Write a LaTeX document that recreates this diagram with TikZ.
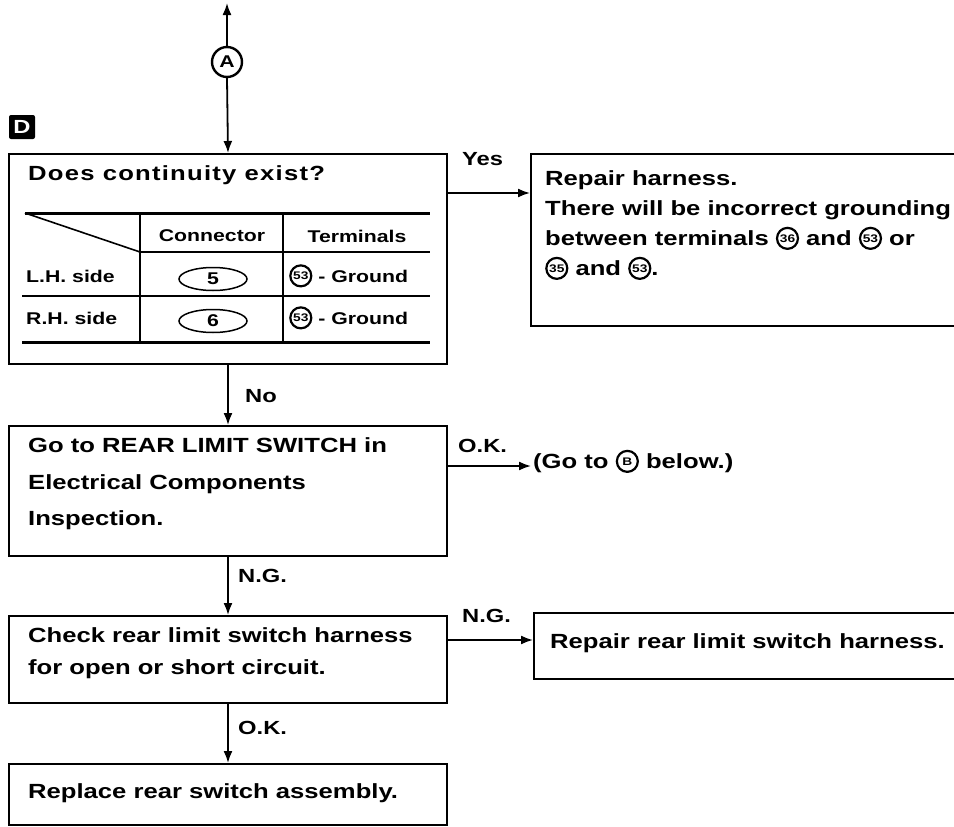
\documentclass[tikz,border=0pt]{standalone}
\usepackage{fontspec}
\setmainfont{Liberation Sans}[UprightFont=* Bold,BoldFont=* Bold,FakeStretch=1.25]
\usetikzlibrary{arrows.meta,shapes.geometric}
\newcommand\circnum[2][3.5pt]{\tikz[baseline={([yshift=-#1]cn.base)}]\node[circle,draw,line width=2.2pt,inner sep=0pt,minimum size=21pt,font=\fontsize{11}{11}\selectfont](cn){#2};}
\begin{document}
\begin{tikzpicture}[x=1pt,y=-1pt,
  box/.style={draw,line width=2pt,anchor=north west,inner sep=0pt},
  conn/.style={line width=1.8pt,-{Latex[length=12pt,width=9pt]}},
  txt/.style={anchor=mid west,inner sep=0pt,font=\fontsize{20.5}{30}\selectfont,align=left},
  lbl/.style={anchor=mid west,inner sep=0pt,font=\fontsize{19}{19}\selectfont},
  tab/.style={inner sep=0pt,font=\fontsize{17}{17}\selectfont},
  thickrule/.style={line width=3pt},
  rule/.style={line width=1.6pt}]
\useasboundingbox (0,0) rectangle (954,827);
\begin{scope}
\clip (0,0) rectangle (954,827);
% boxes
\node[box,minimum width=438,minimum height=210] (b1) at (8,153) {};
\node[box,minimum width=440,minimum height=172] (b2) at (530,153) {};
\node[box,minimum width=438,minimum height=130] (b3) at (8,425) {};
\node[box,minimum width=438,minimum height=87]  (b4) at (8,615) {};
\node[box,minimum width=437,minimum height=66]  (b5) at (533,612) {};
\node[box,minimum width=438,minimum height=61]  (b6) at (8,763) {};
\end{scope}

% marker D
\node[fill=black,text=white,rounded corners=2pt,minimum width=26,minimum height=24,inner sep=0pt,
      font=\fontsize{19}{19}\selectfont] (dmark) at (22,127) {D};

% circle A and top connector
\node[circle,draw,line width=2.4pt,minimum size=30pt,inner sep=0pt,font=\fontsize{17}{17}\selectfont] (ca) at (227,62) {A};
\coordinate (topend) at (227,3);
\draw[conn] (ca.north) -- (topend);
\draw[conn] (ca.south) -- (b1.north);

% box 1 content
\node[txt,font=\fontsize{20.5}{30}\selectfont\addfontfeatures{LetterSpace=6}] (q1) at (28,178) {Does continuity exist?};
\draw[thickrule] (25,213) -- (430,213);
\draw[rule] (25,213) -- (140,252);
\draw[rule] (140,252) -- (430,252);
\draw[rule] (22,296) -- (430,296);
\draw[thickrule] (22,342) -- (430,342);
\draw[rule] (140,213) -- (140,342);
\draw[rule] (283,213) -- (283,342);
\node[tab] (hc) at (212,236) {Connector};
\node[tab] (ht) at (357,236) {Terminals};
\node[tab,anchor=mid west] (lh) at (26,280) {L.H. side};
\node[tab,anchor=mid west] (rh) at (26,322) {R.H. side};
\node[tab,draw,ellipse,line width=1.5pt,minimum width=68,minimum height=23] (c5) at (213,279) {5};
\node[tab,draw,ellipse,line width=1.5pt,minimum width=68,minimum height=23] (c6) at (213,321) {6};
\node[tab,anchor=mid west] (t1) at (289,280) {\circnum[3pt]{53} - Ground};
\node[tab,anchor=mid west] (t2) at (289,322) {\circnum[3pt]{53} - Ground};

% box 2 content (anchor refers to last line)
\node[txt] (r1) at (545,273) {Repair harness.\\There will be incorrect grounding\\between terminals \circnum{36} and \circnum{53} or\\\circnum{35} and \circnum{53}.};

% box 3 content
\node[txt,font=\fontsize{20.5}{36.5}\selectfont] (g1) at (28,523) {Go to REAR LIMIT SWITCH in\\Electrical Components\\Inspection.};
\node[txt,anchor=mid west,inner xsep=2pt] (goB) at (531,466) {(Go to \circnum{B} below.)};

% box 4 content
\node[txt,font=\fontsize{20.5}{32}\selectfont] (k1) at (28,672) {Check rear limit switch harness\\for open or short circuit.};
% box 5 content
\node[txt] (rr) at (550,646) {Repair rear limit switch harness.};
% box 6 content
\node[txt] (rp) at (28,796) {Replace rear switch assembly.};

% connectors
\coordinate (yy) at (0,193);
\coordinate (oky) at (0,466);
\coordinate (ngy) at (0,640);
\draw[conn] (b1.east |- yy) -- (b2.west |- yy);
\draw[conn] (b1.south) -- (b3.north);
\draw[conn] (b3.east |- oky) -- (goB.west |- oky);
\draw[conn] (b3.south) -- (b4.north);
\draw[conn] (b4.east |- ngy) -- (b5.west |- ngy);
\draw[conn] (b4.south) -- (b6.north);

% labels
\node[lbl] (lyes) at (462,163) {Yes};
\node[lbl] (lno) at (245,400) {No};
\node[lbl] (lok1) at (458,450) {O.K.};
\node[lbl] (lng1) at (238,580) {N.G.};
\node[lbl] (lng2) at (462,620) {N.G.};
\node[lbl] (lok2) at (238,732) {O.K.};
\end{tikzpicture}
\end{document}
